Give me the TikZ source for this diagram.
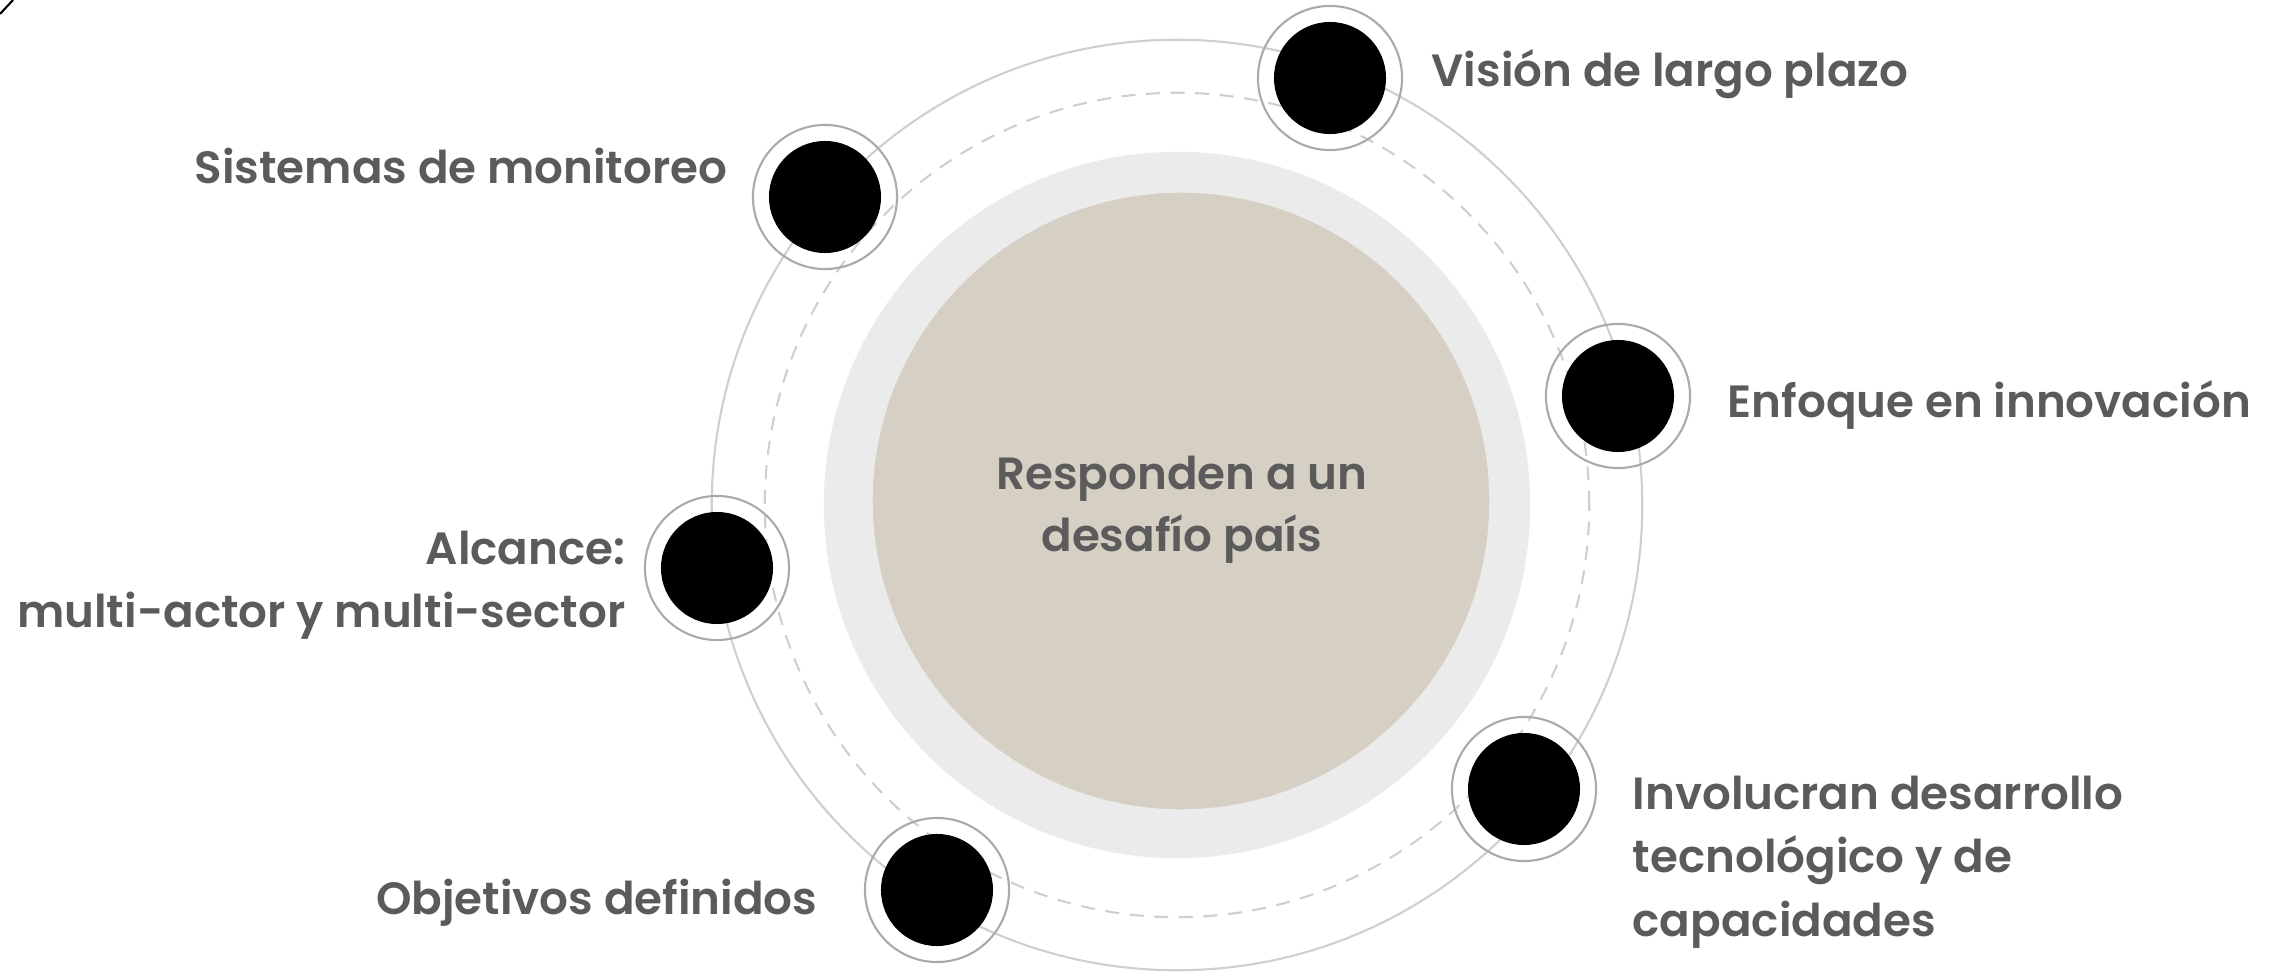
\documentclass[tikz,border=0pt]{standalone}
\usepackage{fontspec}
\setmainfont{Poppins}[BoldFont={* SemiBold}]
\definecolor{txt}{HTML}{5B5B5B}
\definecolor{beige}{HTML}{D6CFC4}
\definecolor{halo}{HTML}{EBEBEB}
\definecolor{orbit}{HTML}{CFCFCF}
\definecolor{ringc}{HTML}{AAAAAA}
\begin{document}
\begin{tikzpicture}[x=0.01cm,y=-0.01cm,
  ringnode/.style={circle,draw=ringc,line width=0.6pt,minimum size=1.44cm,inner sep=0pt},
  dotnode/.style={circle,fill=black,minimum size=1.12cm,inner sep=0pt},
  lbl/.style={inner sep=0pt,text=txt,font=\fontsize{12.85}{17.9}\selectfont\bfseries},
]
\useasboundingbox (0,0) rectangle (2277,973);
\coordinate (c) at (1177,505);
\coordinate (cb) at (1181,501);
% background discs and orbits
\fill[halo] (c) circle[radius=3.53cm];
\fill[beige,draw=black!8,line width=0.5pt] (cb) circle[radius=3.09cm];
\draw[orbit,line width=0.6pt] (c) circle[radius=4.65cm];
\draw[orbit,line width=0.6pt,dash pattern=on 4pt off 3pt] (c) circle[radius=4.12cm];
% corner stroke
\coordinate (k1) at (0,14);
\coordinate (k2) at (13,0);
\draw[line width=0.6pt] (k1) -- (k2);
% markers
\node[ringnode] (vr) at (1330,78) {};
\node[dotnode] (v) at (vr) {};
\node[ringnode] (sr) at (825,197) {};
\node[dotnode] (s) at (sr) {};
\node[ringnode] (er) at (1618,396) {};
\node[dotnode] (e) at (er) {};
\node[ringnode] (ar) at (717,568) {};
\node[dotnode] (a) at (ar) {};
\node[ringnode] (ir) at (1524,789) {};
\node[dotnode] (i) at (ir) {};
\node[ringnode] (or) at (937,890) {};
\node[dotnode] (o) at (or) {};
% labels
\node[lbl,anchor=base] (ct) at (1182,489) {Responden a un};
\node[lbl,anchor=base] (ct2) at (1182,551) {desafío país};
\node[lbl,anchor=base west] (vl) at (1431,87) {Visión de largo plazo};
\node[lbl,anchor=base east] (sl) at (728,184) {Sistemas de monitoreo};
\node[lbl,anchor=base west] (el) at (1727,418) {Enfoque en innovación};
\node[lbl,anchor=base east] (al) at (626,564) {Alcance:};
\node[lbl,anchor=base east] (al2) at (626,627) {multi-actor y multi-sector};
\node[lbl,anchor=base west] (il) at (1632,810) {Involucran desarrollo};
\node[lbl,anchor=base west] (il2) at (1632,873) {tecnológico y de};
\node[lbl,anchor=base west] (il3) at (1632,936) {capacidades};
\node[lbl,anchor=base east] (ol) at (818,914) {Objetivos definidos};
\end{tikzpicture}
\end{document}
